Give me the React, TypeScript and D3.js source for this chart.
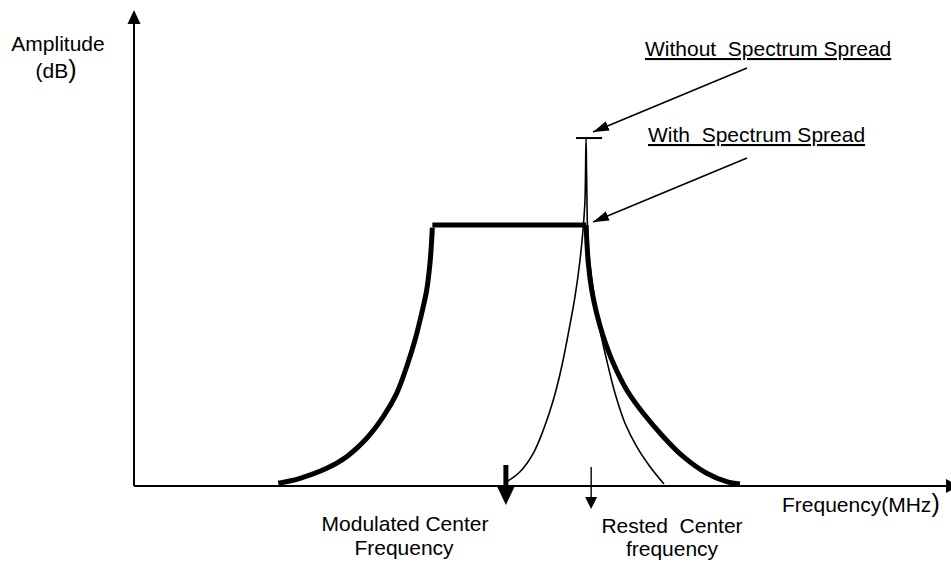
import { useEffect, useRef } from 'react';
import * as d3 from 'd3';

// spectrum points: [frequency, amplitude] in arbitrary units
const spreadRise: [number, number][] = [
  [17.77, 0.57], [20.44, 1.62], [23.73, 3.72], [26.19, 6.16], [28.66, 10.02],
  [30.7, 14.56], [32.35, 19.47], [33.58, 25.06], [34.61, 30.67], [35.43, 36.28],
  [36.05, 41.18], [36.45, 46.79], [36.66, 51.68], [36.74, 54.3],
];
const spreadTop: [number, number][] = [[36.74, 54.83], [55.67, 54.83]];
const spreadFall: [number, number][] = [
  [55.67, 54.83], [55.95, 46.79], [56.37, 41.18], [56.98, 36.28], [57.8, 31.37],
  [59.03, 25.78], [60.68, 20.17], [62.72, 15.27], [65.18, 10.36], [67.65, 6.16],
  [70.53, 2.67], [72.99, 0.9], [74.63, 0.42],
];
const noSpread: [number, number][] = [
  [45.9, 0.9], [47.54, 3.0], [49.17, 6.87], [50.41, 11.76], [51.64, 18.07],
  [52.67, 25.06], [53.49, 32.08], [54.31, 39.77], [54.93, 47.48], [55.33, 54.47],
  [55.54, 60.08], [55.67, 73.1], [55.75, 64.29], [55.95, 50.27], [56.56, 41.18],
  [57.39, 32.77], [58.21, 26.47], [59.24, 19.47], [60.47, 13.17], [61.91, 8.26],
  [63.55, 4.05], [65.27, 0.42],
];
const peak = { freq: 55.67, amp: 73.1 };
const modulatedCenter = 45.8;
const restedCenter = 56.3;

const labels = {
  yTitle: ['Amplitude', '(dB'],
  xTitle: 'Frequency(MHz',
  without: 'Without  Spectrum Spread',
  with: 'With  Spectrum Spread',
  modulated: ['Modulated Center', 'Frequency'],
  rested: ['Rested  Center', 'frequency'],
};

export default function App() {
  const svgRef = useRef<SVGSVGElement>(null);

  useEffect(() => {
    document.body.style.margin = '0';
    if (!svgRef.current) return;
    const svg = d3.select(svgRef.current);
    svg.selectAll('*').remove();

    const width = 951;
    const height = 563;
    const x = d3.scaleLinear().domain([0, 100]).range([134, 946]);
    const y = d3.scaleLinear().domain([0, 100]).range([486, 10]);
    const font = '"Liberation Sans", Arial, sans-serif';

    const defs = svg.append('defs');
    defs.append('marker')
      .attr('id', 'head')
      .attr('viewBox', '0 0 16 10')
      .attr('refX', 16).attr('refY', 5)
      .attr('markerWidth', 16).attr('markerHeight', 10)
      .attr('markerUnits', 'userSpaceOnUse')
      .attr('orient', 'auto')
      .append('path').attr('d', 'M0,0 L16,5 L0,10 Z').attr('fill', '#000');

    svg.append('rect').attr('width', width).attr('height', height).attr('fill', '#fff');

    // axes
    const x0 = x(0), y0 = y(0);
    svg.append('line')
      .attr('x1', x0).attr('y1', y0).attr('x2', x0).attr('y2', y(100) + 13)
      .attr('stroke', '#000').attr('stroke-width', 2);
    svg.append('path')
      .attr('d', `M${x0},${y(100)} L${x0 - 6.5},${y(100) + 14} L${x0 + 6.5},${y(100) + 14} Z`)
      .attr('fill', '#000');
    svg.append('line')
      .attr('x1', x0).attr('y1', y0).attr('x2', x(100)).attr('y2', y0)
      .attr('stroke', '#000').attr('stroke-width', 2);
    svg.append('path')
      .attr('d', `M${x(100) + 13},${y0} L${x(100)},${y0 - 7} L${x(100)},${y0 + 7} Z`)
      .attr('fill', '#000');

    const smooth = d3.line<[number, number]>()
      .x(d => x(d[0])).y(d => y(d[1]))
      .curve(d3.curveCatmullRom.alpha(0.5));
    const straight = d3.line<[number, number]>().x(d => x(d[0])).y(d => y(d[1]));

    // without spectrum spread (thin)
    svg.append('path').attr('d', smooth(noSpread))
      .attr('fill', 'none').attr('stroke', '#000').attr('stroke-width', 1.6);
    svg.append('line')
      .attr('x1', x(peak.freq) - 10).attr('x2', x(peak.freq) + 16)
      .attr('y1', y(peak.amp)).attr('y2', y(peak.amp))
      .attr('stroke', '#000').attr('stroke-width', 2);

    // with spectrum spread (bold)
    [smooth(spreadRise), straight(spreadTop), smooth(spreadFall)].forEach(d => {
      svg.append('path').attr('d', d)
        .attr('fill', 'none').attr('stroke', '#000').attr('stroke-width', 5)
        .attr('stroke-linejoin', 'miter');
    });

    // center markers
    const mx = x(modulatedCenter);
    svg.append('line')
      .attr('x1', mx).attr('x2', mx).attr('y1', y0 - 21).attr('y2', y0 + 2)
      .attr('stroke', '#000').attr('stroke-width', 5);
    svg.append('path')
      .attr('d', `M${mx - 9},${y0} L${mx + 9},${y0} L${mx},${y0 + 19} Z`).attr('fill', '#000');
    const rx = x(restedCenter);
    svg.append('line')
      .attr('x1', rx).attr('x2', rx).attr('y1', y0 - 19).attr('y2', y0 + 12)
      .attr('stroke', '#000').attr('stroke-width', 1.4);
    svg.append('path')
      .attr('d', `M${rx - 6},${y0 + 11} L${rx + 6},${y0 + 11} L${rx},${y0 + 23} Z`).attr('fill', '#000');

    // pointer arrows
    svg.append('line')
      .attr('x1', 747).attr('y1', 68).attr('x2', x(peak.freq) + 7).attr('y2', y(peak.amp) - 6)
      .attr('stroke', '#000').attr('stroke-width', 1.6).attr('marker-end', 'url(#head)');
    svg.append('line')
      .attr('x1', 747).attr('y1', 158).attr('x2', x(spreadTop[1][0]) + 7).attr('y2', y(spreadTop[1][1]) - 3)
      .attr('stroke', '#000').attr('stroke-width', 1.6).attr('marker-end', 'url(#head)');

    const text = (t: string, tx: number, ty: number, anchor = 'start') =>
      svg.append('text')
        .attr('x', tx).attr('y', ty)
        .attr('text-anchor', anchor)
        .attr('font-family', font).attr('font-size', 21)
        .attr('fill', '#000')
        .style('white-space', 'pre')
        .text(t);

    text(labels.yTitle[0], 58, 51, 'middle');
    text(labels.yTitle[1], 56, 78, 'middle')
      .append('tspan').attr('font-size', 25).text(')');
    text(labels.xTitle, 782, 512)
      .append('tspan').attr('font-size', 25).text(')');
    text(labels.without, 645, 56).attr('text-decoration', 'underline');
    text(labels.with, 648, 142).attr('text-decoration', 'underline');
    text(labels.modulated[0], 405, 531, 'middle');
    text(labels.modulated[1], 404, 555, 'middle');
    text(labels.rested[0], 672, 533, 'middle');
    text(labels.rested[1], 672, 556, 'middle');
  }, []);

  return (
    <svg ref={svgRef} width={951} height={563} style={{ display: 'block' }}></svg>
  );
}
